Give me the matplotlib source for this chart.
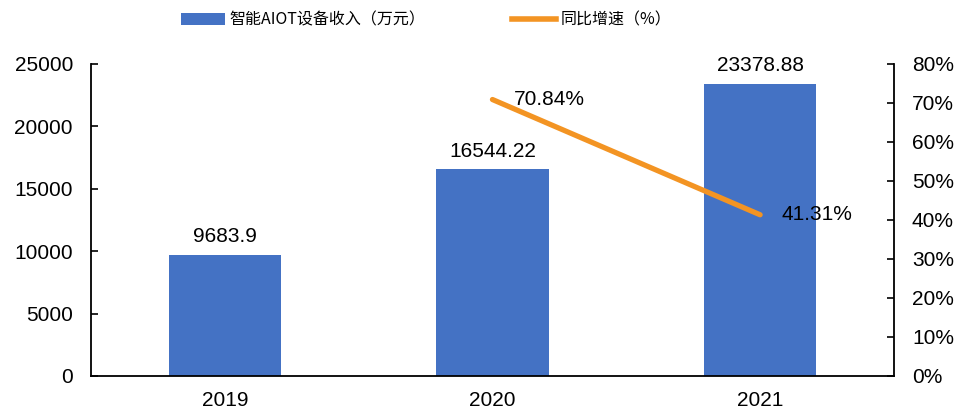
import numpy as np
import matplotlib.pyplot as plt
from matplotlib.lines import Line2D
from matplotlib.patches import Patch

plt.rcParams['font.family'] = ['Liberation Sans', 'Noto Sans CJK SC', 'DejaVu Sans']

years = ['2019', '2020', '2021']
revenue = [9683.9, 16544.22, 23378.88]
growth_years = ['2020', '2021']
growth = [70.84, 41.31]
revenue_labels = ['9683.9', '16544.22', '23378.88']
growth_labels = ['70.84%', '41.31%']

bar_color = '#4472C4'
line_color = '#F39423'
fs = 15

fig = plt.figure(figsize=(9.61, 4.12), dpi=100)
ax = fig.add_axes([0.0947, 0.0874, 0.8355, 0.7578])
x = np.arange(len(years))
ax.bar(x, revenue, width=0.42, color=bar_color, zorder=2)
for xi, v, lab in zip(x, revenue, revenue_labels):
    ax.text(xi, v + 700, lab, ha='center', va='bottom', fontsize=fs)

ax.set_xlim(-0.5, 2.5)
ax.set_ylim(0, 25000)
ax.set_yticks(np.arange(0, 25001, 5000))
ax.set_xticks(x)
ax.set_xticklabels(years)
ax.tick_params(axis='y', labelsize=fs, direction='in', length=5, width=1.2, pad=13)
ax.tick_params(axis='x', labelsize=fs, length=0, pad=11)
for s in ['top', 'right']:
    ax.spines[s].set_visible(False)
for s in ['left', 'bottom']:
    ax.spines[s].set_linewidth(1.3)

ax2 = ax.twinx()
gx = [years.index(y) for y in growth_years]
ax2.plot(gx, growth, color=line_color, linewidth=3.8, solid_capstyle='round')
for xi, v, lab in zip(gx, growth, growth_labels):
    ax2.text(xi + 0.08, v, lab, ha='left', va='center', fontsize=fs)
ax2.set_ylim(0, 80)
ax2.set_yticks(np.arange(0, 81, 10))
ax2.set_yticklabels([f'{t}%' for t in range(0, 81, 10)])
ax2.tick_params(axis='y', labelsize=fs, direction='in', length=5, width=1.2, pad=13)
for s in ['top', 'left', 'bottom']:
    ax2.spines[s].set_visible(False)
ax2.spines['right'].set_linewidth(1.3)

handles = [Patch(facecolor=bar_color, edgecolor='none'),
           Line2D([0], [0], color=line_color, linewidth=4)]
labels = ['智能AIOT设备收入（万元）', '同比增速（%）']
fig.legend(handles, labels, loc='center left', bbox_to_anchor=(0.188, 0.951), ncol=2,
           frameon=False, columnspacing=5.4, handlelength=2.8, handletextpad=0.25,
           borderpad=0, borderaxespad=0, handleheight=0.75,
           prop={'family': ['Noto Sans CJK SC', 'DejaVu Sans'], 'size': 11.5})

fig.savefig('out.png', dpi=100)
